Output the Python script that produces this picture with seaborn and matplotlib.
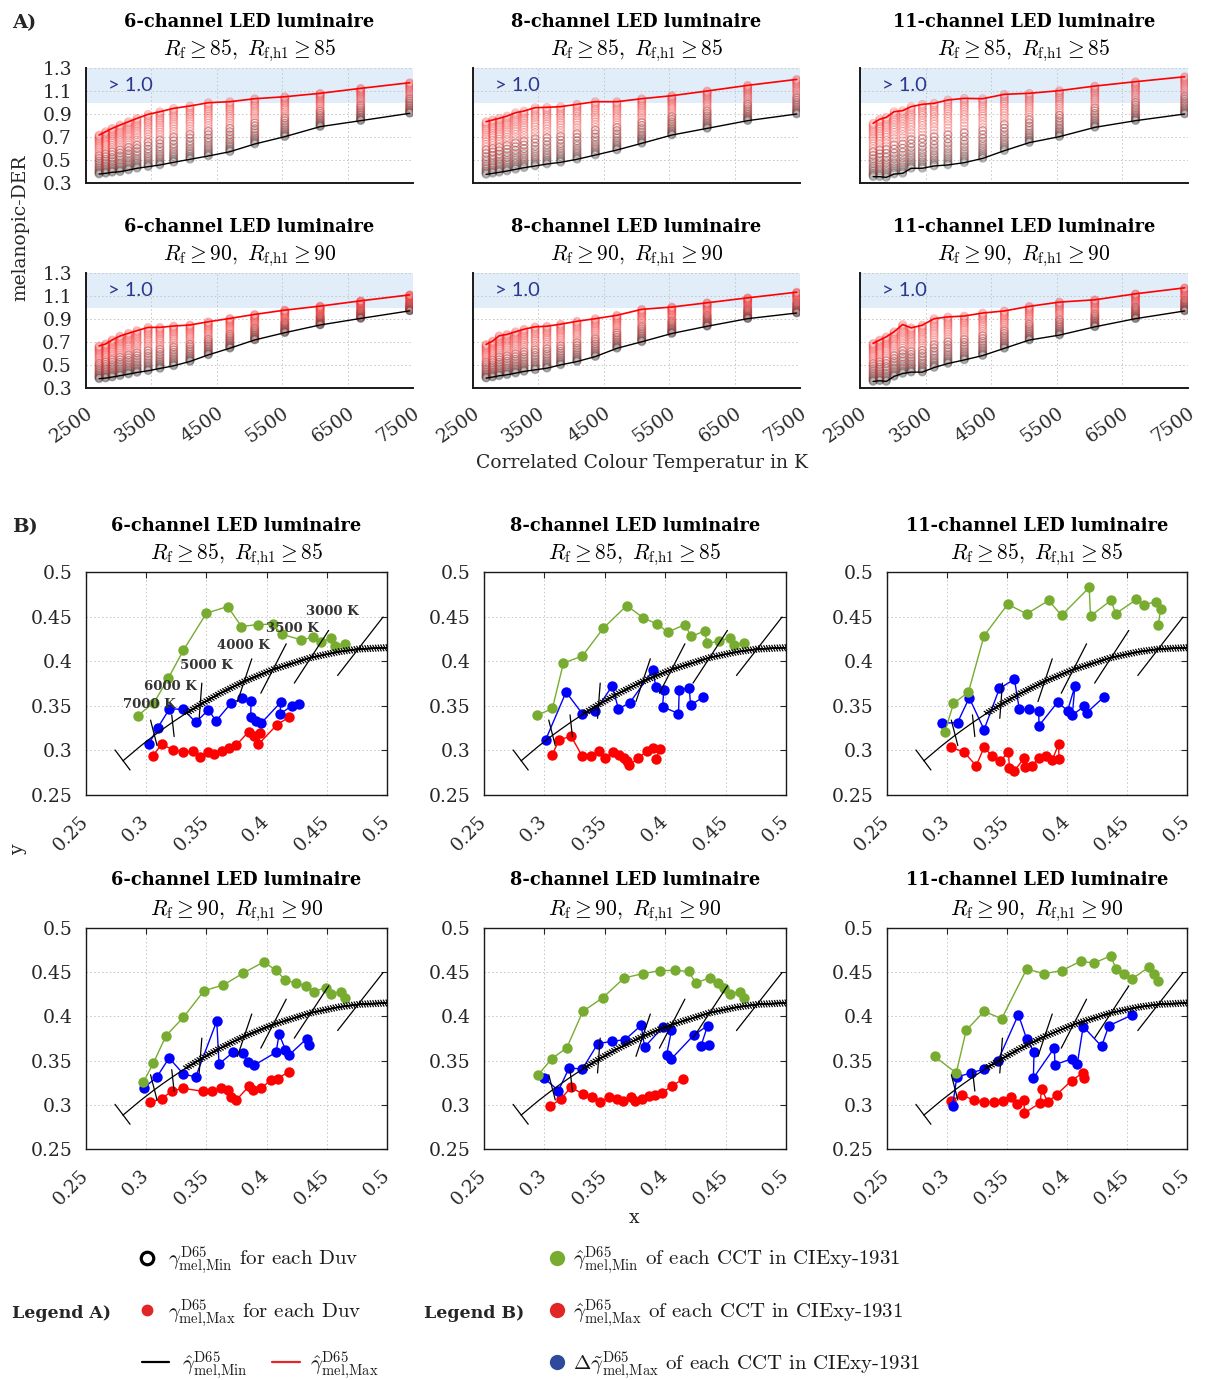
import matplotlib
matplotlib.use("Agg")
import matplotlib.pyplot as plt
import matplotlib.patheffects as pe
from matplotlib.ticker import MultipleLocator
from matplotlib.transforms import ScaledTranslation
import pandas as pd
import seaborn as sns

sns.set_style("white")
plt.rcParams['font.family'] = ['DejaVu Serif']
plt.rcParams['mathtext.fontset'] = 'cm'

# ------------------------------------------------------------------ data A
cct = [2700, 2800, 2900, 3020, 3150, 3280, 3450, 3630, 3840, 4090, 4370,
       4700, 5080, 5540, 6080, 6700, 7450]

a_min_6_85 = [0.378, 0.384, 0.393, 0.398, 0.413, 0.428, 0.442, 0.457, 0.48, 0.506, 0.535, 0.572, 0.639, 0.703, 0.79, 0.842, 0.906]
a_max_6_85 = [0.717, 0.746, 0.775, 0.804, 0.833, 0.862, 0.897, 0.92, 0.949, 0.97, 0.998, 1.007, 1.033, 1.05, 1.08, 1.123, 1.172]
a_min_8_85 = [0.375, 0.384, 0.393, 0.404, 0.419, 0.433, 0.448, 0.465, 0.48, 0.506, 0.543, 0.587, 0.645, 0.717, 0.775, 0.842, 0.9]
a_max_8_85 = [0.833, 0.848, 0.862, 0.882, 0.911, 0.926, 0.955, 0.958, 0.964, 0.984, 1.007, 1.007, 1.033, 1.059, 1.1, 1.149, 1.201]
a_min_11_85 = [0.355, 0.355, 0.349, 0.378, 0.384, 0.428, 0.428, 0.448, 0.457, 0.477, 0.514, 0.581, 0.651, 0.703, 0.784, 0.842, 0.9]
a_max_11_85 = [0.819, 0.854, 0.871, 0.92, 0.929, 0.964, 0.984, 0.993, 1.022, 1.036, 1.033, 1.071, 1.08, 1.103, 1.143, 1.181, 1.224]
a_min_6_90 = [0.381, 0.386, 0.395, 0.407, 0.421, 0.435, 0.45, 0.47, 0.493, 0.531, 0.588, 0.646, 0.718, 0.781, 0.848, 0.905, 0.971]
a_max_6_90 = [0.666, 0.683, 0.718, 0.752, 0.776, 0.799, 0.827, 0.827, 0.839, 0.848, 0.876, 0.905, 0.94, 0.977, 1.012, 1.058, 1.11]
a_min_8_90 = [0.386, 0.395, 0.406, 0.415, 0.429, 0.444, 0.458, 0.472, 0.501, 0.53, 0.573, 0.645, 0.702, 0.774, 0.837, 0.903, 0.952]
a_max_8_90 = [0.679, 0.708, 0.754, 0.766, 0.789, 0.811, 0.832, 0.837, 0.855, 0.88, 0.903, 0.932, 0.984, 1.004, 1.041, 1.084, 1.133]
a_min_11_90 = [0.357, 0.363, 0.357, 0.401, 0.426, 0.438, 0.438, 0.478, 0.513, 0.544, 0.582, 0.645, 0.717, 0.76, 0.832, 0.903, 0.97]
a_max_11_90 = [0.688, 0.717, 0.745, 0.789, 0.852, 0.823, 0.846, 0.903, 0.918, 0.926, 0.952, 0.97, 1.01, 1.047, 1.067, 1.119, 1.171]

# relative position of the per-Duv circles inside each CCT column
duv_min_frac = [0.0, 0.015, 0.03, 0.05, 0.07, 0.1, 0.13, 0.16, 0.2, 0.24, 0.29, 0.34, 0.4, 0.47]
duv_max_frac = [0.1, 0.18, 0.26, 0.33, 0.4, 0.46, 0.52, 0.57, 0.62, 0.67, 0.71, 0.75, 0.79,
                0.83, 0.86, 0.89, 0.92, 0.95, 0.975, 1.0]

a_xticks = [2500, 3500, 4500, 5500, 6500, 7500]
a_xticklabels = ['2500', '3500', '4500', '5500', '6500', '7500']
a_yticks = [0.3, 0.5, 0.7, 0.9, 1.1, 1.3]
a_yticklabels = ['0.3', '0.5', '0.7', '0.9', '1.1', '1.3']

# ------------------------------------------------------------------ data B
b6_85_gx = [0.293, 0.3065, 0.3184, 0.3309, 0.350, 0.3677, 0.3791, 0.3927, 0.4051, 0.4126, 0.4287, 0.4389, 0.445, 0.4533, 0.4572, 0.4652]
b6_85_gy = [0.339, 0.3536, 0.381, 0.4123, 0.4538, 0.4613, 0.4389, 0.4411, 0.4415, 0.4303, 0.4239, 0.4269, 0.4213, 0.4258, 0.4176, 0.4198]
b6_85_rx = [0.3054, 0.3129, 0.3226, 0.3309, 0.3386, 0.3447, 0.3511, 0.3566, 0.3627, 0.3688, 0.3747, 0.3852, 0.3896, 0.3946, 0.3932, 0.4084, 0.4184]
b6_85_ry = [0.2941, 0.3068, 0.3005, 0.2979, 0.299, 0.293, 0.2979, 0.2956, 0.2994, 0.3027, 0.3057, 0.3211, 0.3162, 0.3192, 0.3068, 0.3285, 0.3371]
b6_85_bx = [0.3021, 0.3096, 0.3193, 0.3309, 0.3411, 0.3517, 0.358, 0.3705, 0.3799, 0.3871, 0.3868, 0.3913, 0.3954, 0.4118, 0.4112, 0.4209, 0.4273]
b6_85_by = [0.3068, 0.3255, 0.3465, 0.3461, 0.3315, 0.3454, 0.333, 0.3529, 0.3585, 0.3555, 0.3379, 0.3334, 0.3304, 0.354, 0.3409, 0.3499, 0.3521]

b8_85_gx = [0.2942, 0.3066, 0.3157, 0.3315, 0.3489, 0.3682, 0.3815, 0.3931, 0.4022, 0.4163, 0.4215, 0.4326, 0.4348, 0.4447, 0.4533, 0.4569, 0.4649]
b8_85_gy = [0.3395, 0.347, 0.3977, 0.406, 0.4372, 0.4624, 0.4489, 0.4417, 0.4327, 0.441, 0.4278, 0.4338, 0.4199, 0.4225, 0.4263, 0.418, 0.4203]
b8_85_rx = [0.3061, 0.3124, 0.3221, 0.3315, 0.3387, 0.3456, 0.3505, 0.3566, 0.3619, 0.3655, 0.3682, 0.3704, 0.3776, 0.3851, 0.3903, 0.3953, 0.3925]
b8_85_ry = [0.2944, 0.312, 0.3158, 0.2932, 0.2932, 0.2996, 0.2917, 0.2977, 0.2944, 0.2913, 0.2883, 0.2835, 0.2913, 0.2996, 0.3022, 0.3018, 0.2902]
b8_85_bx = [0.3011, 0.3179, 0.3315, 0.3422, 0.3561, 0.3613, 0.3707, 0.3898, 0.3922, 0.3989, 0.3978, 0.4110, 0.4116, 0.4199, 0.421, 0.4315]
b8_85_by = [0.312, 0.3654, 0.341, 0.344, 0.3722, 0.3466, 0.3534, 0.3898, 0.3714, 0.368, 0.3489, 0.3413, 0.3673, 0.3703, 0.3507, 0.3598]

b11_85_gx = [0.2982, 0.3054, 0.3179, 0.3309, 0.3506, 0.3664, 0.3847, 0.3955, 0.4185, 0.4196, 0.4366, 0.4407, 0.4579, 0.464, 0.4745, 0.4781, 0.4759]
b11_85_gy = [0.3203, 0.3526, 0.3654, 0.4286, 0.4639, 0.453, 0.4681, 0.4513, 0.4827, 0.4507, 0.4681, 0.4534, 0.4692, 0.4632, 0.4669, 0.4586, 0.4402]
b11_85_rx = [0.3032, 0.3143, 0.3243, 0.3309, 0.3379, 0.3442, 0.3512, 0.352, 0.3562, 0.3642, 0.365, 0.3706, 0.3770, 0.3825, 0.3878, 0.393, 0.3933]
b11_85_ry = [0.3034, 0.2981, 0.2827, 0.3034, 0.2932, 0.2876, 0.2985, 0.2808, 0.2771, 0.2913, 0.2812, 0.2827, 0.2917, 0.294, 0.2895, 0.3071, 0.2902]
b11_85_bx = [0.2957, 0.3088, 0.3185, 0.3309, 0.3437, 0.3562, 0.3603, 0.3686, 0.3764, 0.3767, 0.3922, 0.4005, 0.4066, 0.4044, 0.4144, 0.4163, 0.4307]
b11_85_by = [0.3304, 0.3312, 0.359, 0.3233, 0.3695, 0.3797, 0.3459, 0.3459, 0.344, 0.3278, 0.3541, 0.3444, 0.3722, 0.3395, 0.3496, 0.3421, 0.3598]

b6_90_gx = [0.2976, 0.306, 0.3165, 0.3309, 0.3481, 0.3641, 0.3807, 0.3976, 0.4079, 0.4156, 0.4245, 0.4328, 0.4392, 0.4492, 0.4536, 0.4619, 0.4652]
b6_90_gy = [0.3254, 0.3473, 0.3782, 0.399, 0.4291, 0.4355, 0.4491, 0.4616, 0.4521, 0.4408, 0.4378, 0.434, 0.428, 0.4325, 0.4257, 0.428, 0.4205]
b6_90_rx = [0.3032, 0.3129, 0.3217, 0.3309, 0.3475, 0.3547, 0.3619, 0.3683, 0.3702, 0.3747, 0.3852, 0.3891, 0.3951, 0.4035, 0.4093, 0.4184]
b6_90_ry = [0.3028, 0.3069, 0.316, 0.3186, 0.3152, 0.3152, 0.3194, 0.3171, 0.3085, 0.3051, 0.3209, 0.3164, 0.3186, 0.3277, 0.3296, 0.3375]
b6_90_bx = [0.2982, 0.3087, 0.319, 0.3309, 0.3411, 0.3586, 0.3605, 0.3724, 0.3802, 0.3843, 0.3899, 0.4079, 0.4104, 0.4156, 0.4184, 0.4334, 0.4356]
b6_90_by = [0.3194, 0.3311, 0.353, 0.3348, 0.3315, 0.3948, 0.3462, 0.3597, 0.3586, 0.3484, 0.345, 0.3594, 0.3801, 0.3624, 0.356, 0.3749, 0.3677]

b8_90_gx = [0.295, 0.3061, 0.3185, 0.3318, 0.3481, 0.366, 0.3815, 0.3953, 0.4085, 0.4193, 0.4254, 0.4367, 0.4436, 0.4489, 0.4538, 0.4621, 0.4649]
b8_90_gy = [0.3341, 0.3522, 0.3643, 0.4057, 0.4208, 0.4435, 0.4484, 0.4517, 0.4521, 0.4509, 0.4378, 0.4435, 0.4378, 0.4321, 0.4254, 0.428, 0.4205]
b8_90_rx = [0.3047, 0.3135, 0.3221, 0.3318, 0.3398, 0.3464, 0.3536, 0.3599, 0.3649, 0.3713, 0.3754, 0.3806, 0.3864, 0.3917, 0.3972, 0.4058, 0.4149]
b8_90_ry = [0.2983, 0.3066, 0.3198, 0.3122, 0.3088, 0.3032, 0.3085, 0.3069, 0.3047, 0.3085, 0.3047, 0.3069, 0.3096, 0.3115, 0.3134, 0.3216, 0.3292]
b8_90_bx = [0.2997, 0.3116, 0.3204, 0.3315, 0.3442, 0.3558, 0.3668, 0.3801, 0.3829, 0.398, 0.4052, 0.4011, 0.405, 0.4235, 0.4351, 0.4295, 0.4362]
b8_90_by = [0.3303, 0.316, 0.3416, 0.3405, 0.3692, 0.3718, 0.3737, 0.3899, 0.3654, 0.3876, 0.3843, 0.356, 0.3518, 0.3786, 0.3895, 0.3661, 0.3673]

b11_90_gx = [0.2896, 0.3077, 0.316, 0.3309, 0.3456, 0.3664, 0.3808, 0.3955, 0.4113, 0.4227, 0.4366, 0.4407, 0.4476, 0.4543, 0.4684, 0.4726, 0.4759]
b11_90_gy = [0.3548, 0.336, 0.3842, 0.4057, 0.3974, 0.4536, 0.4484, 0.4517, 0.4623, 0.4604, 0.4687, 0.4536, 0.4479, 0.4426, 0.4558, 0.4479, 0.4401]
b11_90_rx = [0.3032, 0.3121, 0.3223, 0.3309, 0.339, 0.3465, 0.3534, 0.3587, 0.3642, 0.3645, 0.3775, 0.3789, 0.3839, 0.3914, 0.4038, 0.413, 0.4144]
b11_90_ry = [0.3039, 0.3115, 0.3051, 0.3028, 0.3032, 0.3043, 0.3088, 0.3013, 0.3058, 0.2907, 0.302, 0.3179, 0.3032, 0.3115, 0.3274, 0.336, 0.3299]
b11_90_bx = [0.3046, 0.3082, 0.3201, 0.3309, 0.3423, 0.3595, 0.3664, 0.3725, 0.372, 0.3894, 0.39, 0.4044, 0.4086, 0.4135, 0.4288, 0.4349, 0.4543]
b11_90_by = [0.2983, 0.3315, 0.336, 0.3405, 0.3496, 0.402, 0.3744, 0.3594, 0.3303, 0.3643, 0.3454, 0.3522, 0.3465, 0.3885, 0.3662, 0.3895, 0.4016]

# Planckian locus (CIE 1931 xy) from 10000 K down to ~2250 K
locus_x = [0.2807, 0.2952, 0.3064, 0.3135, 0.3221, 0.3324, 0.3451, 0.3608, 0.3805, 0.4053, 0.4369, 0.4599, 0.4770, 0.5016]
locus_y = [0.2883, 0.3048, 0.3166, 0.3236, 0.3318, 0.3410, 0.3516, 0.3636, 0.3768, 0.3907, 0.4041, 0.4106, 0.4137, 0.4153]
# isotherm segments (10000, 7000, 6000, 5000, 4000, 3500, 3000, 2500 K)
iso_x1 = [0.2741, 0.3036, 0.3212, 0.3462, 0.3877, 0.4163, 0.4515, 0.4967]
iso_y1 = [0.3005, 0.3340, 0.3398, 0.3754, 0.4027, 0.4195, 0.4345, 0.4495]
iso_x2 = [0.2866, 0.3090, 0.3232, 0.3440, 0.3758, 0.3952, 0.4230, 0.4590]
iso_y2 = [0.2780, 0.3055, 0.3155, 0.3360, 0.3548, 0.3641, 0.3754, 0.3840]
cct_labels = ['7000 K', '6000 K', '5000 K', '4000 K', '3500 K', '3000 K']
cct_label_x = [0.2805, 0.2980, 0.3280, 0.3590, 0.3994, 0.4330]
cct_label_y = [0.3520, 0.3720, 0.3950, 0.4180, 0.4370, 0.4558]

b_ticks = [0.25, 0.3, 0.35, 0.4, 0.45, 0.5]
b_ticklabels = ['0.25', '0.3', '0.35', '0.4', '0.45', '0.5']

luminaires = ['6-channel LED luminaire', '8-channel LED luminaire', '11-channel LED luminaire']
thresholds = ['85', '90']

# ------------------------------------------------------------------ layout
W, H = 1215, 1380
fig = plt.figure(figsize=(W / 100, H / 100), dpi=100)
fig.patch.set_facecolor('white')

A_cols = [(86, 413), (473, 800), (860, 1188)]
A_rows = [(68, 183), (273, 388)]
B_cols = [(86, 387), (484, 786), (887, 1187)]
B_rows = [(572, 795), (928, 1149)]

TICK_C = '#262626'
GREEN = '#77AC30'
GRID_KW = dict(color='#c4c4c4', linestyle=(0, (1.5, 2.5)), linewidth=0.7)
TICK_FS = 13.5
TITLE_FS = 12.8
SUB_FS = 15.5


def add_px_axes(l, t, r, b):
    return fig.add_axes([l / W, 1 - b / H, (r - l) / W, (b - t) / H])


def ftext(x, y, s, **kw):
    return fig.text(x / W, 1 - y / H, s, **kw)


def subtitle(thr):
    return r'$R_{\rm f} \geq %s,\ R_{\mathrm{f{,}h1}} \geq %s$' % (thr, thr)


def shift_labels(labels, dx_px, dy_px=0):
    for lab in labels:
        lab.set_transform(lab.get_transform() +
                          ScaledTranslation(dx_px / 100, dy_px / 100, fig.dpi_scale_trans))


# ------------------------------------------------------------------ panels A
a_panels = [
    (0, 0, a_min_6_85, a_max_6_85), (0, 1, a_min_8_85, a_max_8_85), (0, 2, a_min_11_85, a_max_11_85),
    (1, 0, a_min_6_90, a_max_6_90), (1, 1, a_min_8_90, a_max_8_90), (1, 2, a_min_11_90, a_max_11_90),
]
a_title_base = [27, 232]
a_sub_base = [55, 260]

for row, col, mn, mx in a_panels:
    l, r = A_cols[col]
    t, b = A_rows[row]
    ax = add_px_axes(l, t, r, b)
    ax.axhspan(1.0, 1.3, color='#e1edf8', lw=0, zorder=0)

    xs_b, ys_b, xs_r, ys_r = [], [], [], []
    for T, lo, hi in zip(cct, mn, mx):
        for f in duv_min_frac:
            xs_b.append(T)
            ys_b.append(lo + f * (hi - lo))
        for f in duv_max_frac:
            xs_r.append(T)
            ys_r.append(lo + f * (hi - lo))
    df_b = pd.DataFrame({'cct': xs_b, 'val': ys_b})
    df_r = pd.DataFrame({'cct': xs_r, 'val': ys_r})
    sns.scatterplot(data=df_b, x='cct', y='val', ax=ax, s=30, marker='o', legend=False, zorder=2)
    pc = ax.collections[-1]
    pc.set_facecolor('none')
    pc.set_edgecolor((0.25, 0.25, 0.25, 0.32))
    pc.set_linewidth(0.9)
    sns.scatterplot(data=df_r, x='cct', y='val', ax=ax, s=30, marker='o', legend=False, zorder=3)
    pc = ax.collections[-1]
    pc.set_facecolor('none')
    pc.set_edgecolor((0.95, 0.2, 0.2, 0.30))
    pc.set_linewidth(0.9)

    sns.lineplot(x=cct, y=mn, ax=ax, color='black', lw=1.0, sort=False, estimator=None, zorder=4)
    sns.lineplot(x=cct, y=mx, ax=ax, color='#ff0000', lw=1.2, sort=False, estimator=None, zorder=5)

    ax.set_xlim(2500, 7500)
    ax.set_ylim(0.3, 1.3)
    ax.set_xlabel('')
    ax.set_ylabel('')
    ax.set_xticks(a_xticks)
    ax.xaxis.set_minor_locator(MultipleLocator(250))
    ax.set_yticks(a_yticks)
    ax.grid(True, which='major', **GRID_KW)
    ax.set_axisbelow(True)
    for s in ['top', 'right']:
        ax.spines[s].set_visible(False)
    for s in ['left', 'bottom']:
        ax.spines[s].set_linewidth(1.4)
        ax.spines[s].set_color('#1a1a1a')
    ax.tick_params(which='both', direction='in', colors=TICK_C, labelsize=TICK_FS)
    ax.tick_params(which='major', length=4, width=0.8)
    ax.tick_params(which='minor', length=2.5, width=0.7)
    ax.tick_params(axis='y', pad=10)
    ax.tick_params(axis='x', pad=17)
    if col == 0:
        ax.set_yticklabels(a_yticklabels)
    else:
        ax.set_yticklabels([])
    if row == 1:
        ax.set_xticklabels(a_xticklabels, rotation=35, ha='right', va='center',
                           rotation_mode='anchor')
        shift_labels(ax.get_xticklabels(), 5)
    else:
        ax.set_xticklabels([])

    ax.text(2830, 1.15, '> 1.0', fontsize=14.5, color='#2b388f', family='Lato',
            ha='left', va='center', zorder=6)

    cx = (l + r) / 2
    ftext(cx, a_title_base[row], luminaires[col], fontsize=TITLE_FS, weight='bold',
          ha='center', va='baseline', color='black')
    ftext(cx, a_sub_base[row], subtitle(thresholds[row]), fontsize=SUB_FS,
          ha='center', va='baseline', color='black')

# ------------------------------------------------------------------ panels B
b_panels = [
    (0, 0, b6_85_gx, b6_85_gy, b6_85_rx, b6_85_ry, b6_85_bx, b6_85_by),
    (0, 1, b8_85_gx, b8_85_gy, b8_85_rx, b8_85_ry, b8_85_bx, b8_85_by),
    (0, 2, b11_85_gx, b11_85_gy, b11_85_rx, b11_85_ry, b11_85_bx, b11_85_by),
    (1, 0, b6_90_gx, b6_90_gy, b6_90_rx, b6_90_ry, b6_90_bx, b6_90_by),
    (1, 1, b8_90_gx, b8_90_gy, b8_90_rx, b8_90_ry, b8_90_bx, b8_90_by),
    (1, 2, b11_90_gx, b11_90_gy, b11_90_rx, b11_90_ry, b11_90_bx, b11_90_by),
]
b_title_base = [531, 885]
b_sub_base = [559, 915]

for row, col, gx, gy, rx, ry, bx, by in b_panels:
    l, r = B_cols[col]
    t, b = B_rows[row]
    ax = add_px_axes(l, t, r, b)

    line_kw = dict(ax=ax, sort=False, estimator=None, lw=1.0, marker='o',
                   markersize=7.5, markeredgewidth=0)
    sns.lineplot(x=rx, y=ry, color='#ff0000', zorder=3, **line_kw)
    sns.lineplot(x=bx, y=by, color='#0000ff', zorder=4, **line_kw)
    sns.lineplot(x=gx, y=gy, color=GREEN, zorder=5, **line_kw)

    # Planckian locus with hatch
    sns.lineplot(x=locus_x, y=locus_y, ax=ax, color='black', lw=0.9, sort=False,
                 estimator=None, zorder=6)
    ax.plot(locus_x[5:], locus_y[5:], color='black', lw=1.0, zorder=6,
            path_effects=[pe.Normal(),
                          pe.withTickedStroke(angle=115, spacing=1.9, length=1.3, linewidth=0.9),
                          pe.withTickedStroke(angle=-65, spacing=1.9, length=1.3, linewidth=0.9)])
    for x1, y1, x2, y2 in zip(iso_x1, iso_y1, iso_x2, iso_y2):
        ax.plot([x1, x2], [y1, y2], color='black', lw=0.9, zorder=6)
    if row == 0 and col == 0:
        for s, x, y in zip(cct_labels, cct_label_x, cct_label_y):
            ax.text(x, y, s, fontsize=9.5, weight='bold', color='#333333',
                    ha='left', va='center', zorder=7)

    ax.set_xlim(0.25, 0.5)
    ax.set_ylim(0.25, 0.5)
    ax.set_xlabel('')
    ax.set_ylabel('')
    ax.set_xticks(b_ticks)
    ax.set_yticks(b_ticks)
    ax.set_yticklabels(b_ticklabels)
    ax.set_xticklabels(b_ticklabels, rotation=45, ha='right', va='center',
                       rotation_mode='anchor')
    shift_labels(ax.get_xticklabels(), 10)
    ax.grid(True, which='major', **GRID_KW)
    ax.set_axisbelow(True)
    for s in ax.spines.values():
        s.set_linewidth(1.0)
        s.set_color('#1a1a1a')
        s.set_visible(True)
    ax.tick_params(direction='in', length=4, width=0.8, colors=TICK_C, labelsize=TICK_FS,
                   top=True, right=True)
    ax.tick_params(axis='y', pad=9.5)
    ax.tick_params(axis='x', pad=17)

    cx = (l + r) / 2
    ftext(cx, b_title_base[row], luminaires[col], fontsize=TITLE_FS, weight='bold',
          ha='center', va='baseline', color='black')
    ftext(cx, b_sub_base[row], subtitle(thresholds[row]), fontsize=SUB_FS,
          ha='center', va='baseline', color='black')

# ------------------------------------------------------------------ figure texts
ftext(12, 28, 'A)', fontsize=14, weight='bold', ha='left', va='baseline')
ftext(12, 532, 'B)', fontsize=14, weight='bold', ha='left', va='baseline')
ftext(20, 228, 'melanopic-DER', fontsize=13.5, rotation=90, ha='center', va='center', color=TICK_C)
ftext(642, 463, 'Correlated Colour Temperatur in K', fontsize=13.5, ha='center', va='center', color=TICK_C)
ftext(634, 1218, 'x', fontsize=13.5, ha='center', va='center', color=TICK_C)
ftext(18, 850, 'y', fontsize=13.5, rotation=90, ha='center', va='center', color=TICK_C)

# ------------------------------------------------------------------ legend
lax = fig.add_axes([0, 0, 1, 1])
lax.set_xlim(0, W)
lax.set_ylim(H, 0)
lax.axis('off')

LG = dict(fontsize=15, family='cmr10', ha='left', va='baseline', color='#1a1a1a')
# Legend A
lax.plot([147], [1258], 'o', ms=9, mfc='none', mec='black', mew=2.3)
ftext(168, 1265, r'$\gamma^{\rm D65}_{\mathrm{mel{,}Min}}$ for each Duv', **LG)
ftext(12, 1318, 'Legend A)', fontsize=12.5, weight='bold', ha='left', va='baseline')
lax.plot([147], [1310], 'o', ms=8.5, color='#e02626', mew=0)
ftext(168, 1318, r'$\gamma^{\rm D65}_{\mathrm{mel{,}Max}}$ for each Duv', **LG)
lax.plot([142, 169], [1362, 1362], color='black', lw=1.6)
ftext(182, 1370, r'$\hat{\gamma}^{\rm D65}_{\mathrm{mel{,}Min}}$', **LG)
lax.plot([272, 300], [1362, 1362], color='#e02626', lw=1.6)
ftext(310, 1370, r'$\hat{\gamma}^{\rm D65}_{\mathrm{mel{,}Max}}$', **LG)
# Legend B
ftext(424, 1318, 'Legend B)', fontsize=12.5, weight='bold', ha='left', va='baseline')
lax.plot([557], [1258], 'o', ms=11, color=GREEN, mew=0)
ftext(573, 1265, r'$\hat{\gamma}^{\rm D65}_{\mathrm{mel{,}Min}}$ of each CCT in CIExy-1931', **LG)
lax.plot([557], [1310], 'o', ms=11, color='#e02626', mew=0)
ftext(573, 1318, r'$\hat{\gamma}^{\rm D65}_{\mathrm{mel{,}Max}}$ of each CCT in CIExy-1931', **LG)
lax.plot([557], [1362], 'o', ms=11, color='#2e4a9c', mew=0)
ftext(573, 1370, r'$\Delta\tilde{\gamma}^{\rm D65}_{\mathrm{mel{,}Max}}$ of each CCT in CIExy-1931', **LG)

fig.savefig('out.png', dpi=100)
